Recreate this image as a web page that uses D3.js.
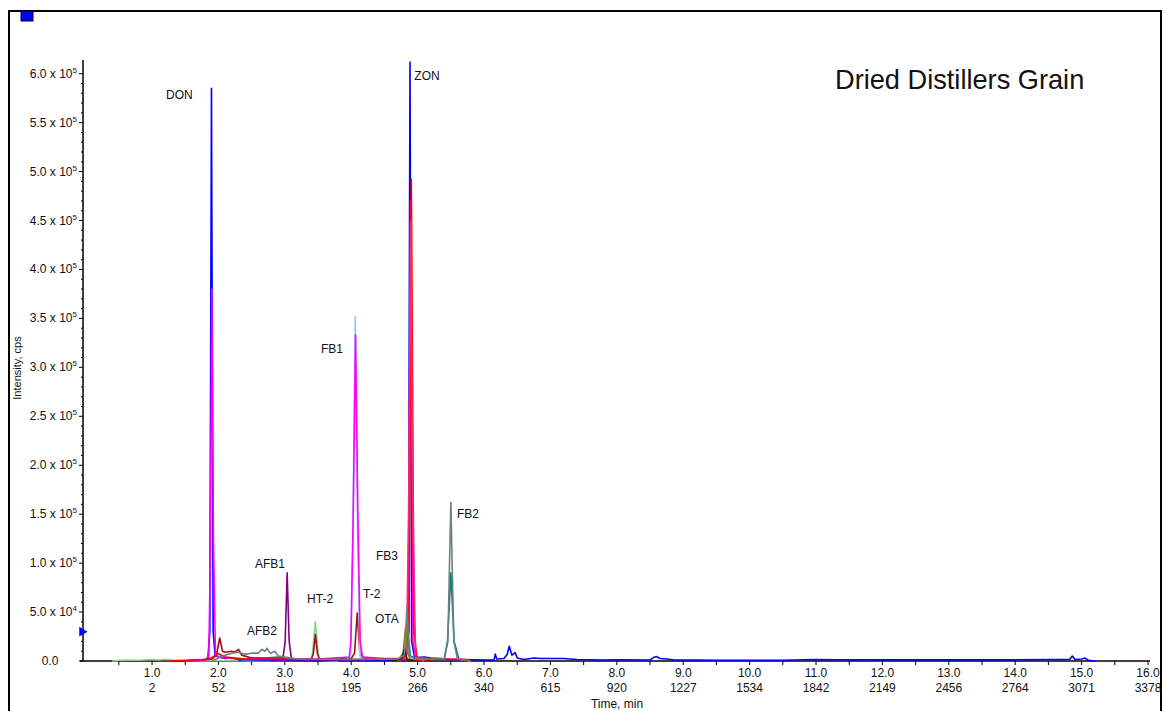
<!DOCTYPE html>
<html>
<head>
<meta charset="utf-8">
<script src="https://cdn.jsdelivr.net/npm/d3@7"></script>
<style>
  body { margin: 0; background: #fff; }
  text { font-family: "Liberation Sans", Arial, sans-serif; fill: #111; }
</style>
</head>
<body>
<div id="chart"></div>
<script>
// axis labels
var timeTicks = [1, 2, 3, 4, 5, 6, 7, 8, 9, 10, 11, 12, 13, 14, 15, 16];
var scanLabels = ["2", "52", "118", "195", "266", "340", "615", "920", "1227", "1534", "1842", "2149", "2456", "2764", "3071", "3378"];
var cpsTicks = [0, 5e4, 1e5, 1.5e5, 2e5, 2.5e5, 3e5, 3.5e5, 4e5, 4.5e5, 5e5, 5.5e5, 6e5];

// peak labels: name, time (min), intensity (cps) of label baseline
var peakNames = ["DON", "ZON", "FB1", "AFB1", "AFB2", "HT-2", "T-2", "FB3", "OTA", "FB2"];
var peakLabelTime = [1.21, 4.95, 3.545, 2.55, 2.43, 3.335, 4.178, 4.373, 4.358, 5.593];
var peakLabelCps = [5.74e5, 5.94e5, 3.15e5, 9.5e4, 2.66e4, 5.93e4, 6.44e4, 1.03e5, 3.89e4, 1.46e5];

// traces: [time (min), intensity (cps)]
var traceGreen = [[0.4, 0], [0.6, 1000], [0.8, 800], [1.0, 1500], [1.1, 1000], [1.2, 1800], [1.3, 1000], [1.5, 300],
  [2.5, 300], [3.3, 800], [3.41, 3000], [3.46, 4.0e4], [3.51, 3000], [3.6, 500], [3.8, 0]];
var traceTeal = [[2.3, 0], [2.5, 3000], [2.7, 3000], [2.9, 4000], [3.0, 3000], [3.3, 1500], [4.5, 1500], [4.78, 2000],
  [4.82, 8000], [4.855, 2.9e4], [4.89, 5000], [5.0, 2000], [5.4, 2000], [5.45, 2e4], [5.5, 9.0e4], [5.55, 2e4],
  [5.62, 2000], [5.8, 0]];
var traceOlive = [[4.6, 0], [4.72, 2000], [4.78, 8000], [4.82, 3.5e4], [4.85, 8000], [4.9, 0]];
var traceBlack = [[4.6, 0], [4.76, 2000], [4.8, 1.2e4], [4.84, 2000], [4.95, 0]];
var tracePurple = [[2.8, 0], [2.97, 2000], [3.005, 2e4], [3.035, 9.0e4], [3.065, 2e4], [3.1, 2000], [3.2, 0]];
var traceDarkRed = [[1.3, 0], [1.7, 500], [1.9, 2000], [1.97, 6000], [2.02, 2.35e4], [2.06, 1.0e4], [2.1, 9000],
  [2.2, 1.0e4], [2.25, 9000], [2.3, 1.2e4], [2.35, 6000], [2.5, 3000], [3.0, 2000], [3.4, 2000], [3.43, 8000],
  [3.46, 2.7e4], [3.49, 8000], [3.52, 2000], [4.0, 2500], [4.05, 8000], [4.09, 4.9e4], [4.13, 8000], [4.2, 2500],
  [4.6, 1500], [5.0, 1000], [5.2, 0]];
var traceLightBlue = [[3.9, 0], [3.99, 5000], [4.025, 1.3e5], [4.06, 3.52e5], [4.095, 1.3e5], [4.13, 5000], [4.2, 0]];
var traceBlue = [[1.45, 0], [1.6, 800], [1.75, 1200], [1.84, 2000], [1.87, 3e4], [1.895, 5.85e5], [1.92, 3e4],
  [1.95, 6000], [2.0, 4000], [2.1, 2500], [2.2, 3000], [2.3, 1500], [2.6, 1000], [3.0, 800], [3.5, 1000], [4.0, 800],
  [4.5, 1000], [4.8, 1200], [4.86, 2e4], [4.885, 6.12e5], [4.91, 2e4], [4.95, 5000], [5.0, 3500], [5.1, 4000],
  [5.2, 3000], [5.35, 2500], [5.5, 1500], [5.8, 1200], [6.1, 1000], [6.15, 1000], [6.17, 7000], [6.19, 2000],
  [6.3, 2500], [6.35, 7000], [6.38, 1.5e4], [6.42, 6000], [6.47, 8500], [6.5, 3000], [6.6, 1500], [6.75, 3000],
  [6.85, 2500], [7.0, 2500], [7.2, 2500], [7.4, 1500], [7.8, 1000], [8.0, 1200], [8.5, 1000], [8.55, 3500],
  [8.6, 4500], [8.65, 2500], [8.75, 2000], [8.85, 1200], [9.5, 800], [10.5, 800], [11.0, 1500], [11.3, 1300],
  [12.0, 1200], [13.0, 1200], [14.0, 1200], [14.5, 1500], [14.82, 1500], [14.86, 5000], [14.9, 1500], [15.0, 2000],
  [15.05, 3000], [15.1, 800], [15.2, 0]];
var traceMagenta = [[1.5, 0], [1.8, 1000], [1.855, 5000], [1.88, 1.2e5], [1.9, 3.8e5], [1.925, 1.2e5], [1.955, 8000],
  [2.0, 4000], [2.2, 2500], [2.6, 2000], [3.0, 1500], [3.5, 2000], [3.97, 4000], [3.995, 2e4], [4.03, 1.5e5],
  [4.065, 3.33e5], [4.1, 1.5e5], [4.135, 2e4], [4.17, 4000], [4.5, 2500], [4.8, 2500], [4.86, 2e4], [4.895, 4.7e5],
  [4.93, 2e4], [4.97, 4000], [5.2, 2000], [5.7, 1500], [5.8, 0]];
var traceRed = [[1.25, 0], [1.5, 800], [1.8, 1500], [1.88, 3000], [1.92, 4000], [1.98, 8000], [2.1, 4000], [2.4, 2000],
  [3.0, 1500], [4.0, 1500], [4.8, 2000], [4.87, 3e4], [4.905, 4.92e5], [4.945, 3e4], [4.99, 3000], [5.3, 2000],
  [5.76, 1500], [5.78, 0]];
var traceCrimson = [[4.7, 0], [4.83, 3000], [4.865, 1.5e5], [4.895, 4.5e5], [4.93, 1.5e5], [4.97, 3000], [5.1, 0]];
var traceGray = [[1.9, 0], [2.0, 3000], [2.1, 6000], [2.2, 8000], [2.3, 9000], [2.4, 7000], [2.5, 8000], [2.6, 8000],
  [2.65, 1.2e4], [2.7, 1.0e4], [2.73, 1.3e4], [2.78, 8000], [2.85, 1.0e4], [2.9, 5000], [3.0, 4000], [3.2, 2000],
  [4.0, 1500], [4.7, 2000], [4.8, 6000], [4.84, 5.6e4], [4.87, 6000], [4.95, 2000], [5.4, 2000], [5.455, 2e4],
  [5.5, 1.62e5], [5.545, 2e4], [5.6, 2000], [5.8, 0]];

var traces = [
  { data: traceGreen, color: "#8fd18f" },
  { data: traceTeal, color: "#008080" },
  { data: tracePurple, color: "#800080" },
  { data: traceDarkRed, color: "#a01010" },
  { data: traceLightBlue, color: "#9ec3ff" },
  { data: traceBlue, color: "#0000ff" },
  { data: traceMagenta, color: "#ff00ff" },
  { data: traceRed, color: "#ff0000" },
  { data: traceCrimson, color: "#ff2a6a" },
  { data: traceOlive, color: "#808000" },
  { data: traceBlack, color: "#222" },
  { data: traceGray, color: "#6f8080" }
];

var width = 1167, height = 711;
var svg = d3.select("#chart").append("svg")
  .attr("width", width)
  .attr("height", height);

// outer frame and marker square
svg.append("rect")
  .attr("x", 9).attr("y", 11)
  .attr("width", 1152).attr("height", 730)
  .attr("fill", "none").attr("stroke", "#000").attr("stroke-width", 2);
svg.append("rect")
  .attr("x", 21).attr("y", 11)
  .attr("width", 12).attr("height", 10)
  .attr("fill", "#0000ff").attr("stroke", "#000033").attr("stroke-width", 1);

var x = d3.scaleLinear().domain([-0.04, 16.03]).range([83, 1150]);
var y = d3.scaleLinear().domain([0, 6.14e5]).range([661, 60]);

// y axis
svg.append("line")
  .attr("x1", 83).attr("x2", 83)
  .attr("y1", y(6.14e5)).attr("y2", y(0))
  .attr("stroke", "#000").attr("stroke-width", 1.5);
var minorY = d3.range(0, 6.1e5, 1e4);
svg.selectAll("line.ymin").data(minorY).enter().append("line")
  .attr("class", "ymin")
  .attr("x1", d => d % 5e4 === 0 ? 79 : 81).attr("x2", 83)
  .attr("y1", d => y(d)).attr("y2", d => y(d))
  .attr("stroke", "#000").attr("stroke-width", 1);

var yLab = svg.selectAll("text.ylab").data(cpsTicks).enter().append("text")
  .attr("class", "ylab")
  .attr("x", d => d === 0 ? 50 : 77)
  .attr("y", d => y(d) + 4)
  .attr("text-anchor", d => d === 0 ? "middle" : "end")
  .style("font-size", "12px");
yLab.each(function(d) {
  var t = d3.select(this);
  if (d === 0) { t.text("0.0"); return; }
  var e = Math.floor(Math.log10(d));
  var m = d / Math.pow(10, e);
  t.append("tspan").text(m.toFixed(1) + " x 10");
  t.append("tspan").attr("dy", -5).style("font-size", "8px").text(e);
});

svg.append("text")
  .attr("transform", "translate(21,368) rotate(-90)")
  .attr("text-anchor", "middle")
  .style("font-size", "11px")
  .text("Intensity, cps");

// threshold marker on y axis
svg.append("path")
  .attr("d", d3.symbol().type(d3.symbolTriangle).size(40)())
  .attr("transform", "translate(82," + y(3.0e4) + ") rotate(90)")
  .attr("fill", "#0000ff");

// x axis
svg.append("line")
  .attr("x1", 80).attr("x2", x(16.03))
  .attr("y1", y(0)).attr("y2", y(0))
  .attr("stroke", "#000").attr("stroke-width", 1.5);
var minorX = d3.range(0.5, 16.01, 0.5);
svg.selectAll("line.xmin").data(minorX).enter().append("line")
  .attr("class", "xmin")
  .attr("x1", d => x(d)).attr("x2", d => x(d))
  .attr("y1", y(0)).attr("y2", y(0) + 4)
  .attr("stroke", "#000").attr("stroke-width", 1);
svg.selectAll("text.xlab").data(timeTicks).enter().append("text")
  .attr("class", "xlab")
  .attr("x", d => x(d))
  .attr("y", 677)
  .attr("text-anchor", "middle")
  .style("font-size", "12px")
  .text(d => d.toFixed(1));
svg.selectAll("text.slab").data(scanLabels).enter().append("text")
  .attr("class", "slab")
  .attr("x", (d, i) => x(timeTicks[i]))
  .attr("y", 692)
  .attr("text-anchor", "middle")
  .style("font-size", "12px")
  .text(d => d);
svg.append("text")
  .attr("x", 617).attr("y", 708)
  .attr("text-anchor", "middle")
  .style("font-size", "12px")
  .text("Time, min");

// traces
var line = d3.line().x(d => x(d[0])).y(d => y(d[1]));
svg.selectAll("path.trace").data(traces).enter().append("path")
  .attr("class", "trace")
  .attr("d", d => line(d.data))
  .attr("fill", "none")
  .attr("stroke", d => d.color)
  .attr("stroke-width", 1.6)
  .attr("stroke-linejoin", "round");

// peak labels
svg.selectAll("text.peak").data(peakNames).enter().append("text")
  .attr("class", "peak")
  .attr("x", (d, i) => x(peakLabelTime[i]))
  .attr("y", (d, i) => y(peakLabelCps[i]))
  .style("font-size", "12px")
  .text(d => d);

// title
svg.append("text")
  .attr("x", 835).attr("y", 89)
  .style("font-size", "27.2px")
  .text("Dried Distillers Grain");
</script>
</body>
</html>
